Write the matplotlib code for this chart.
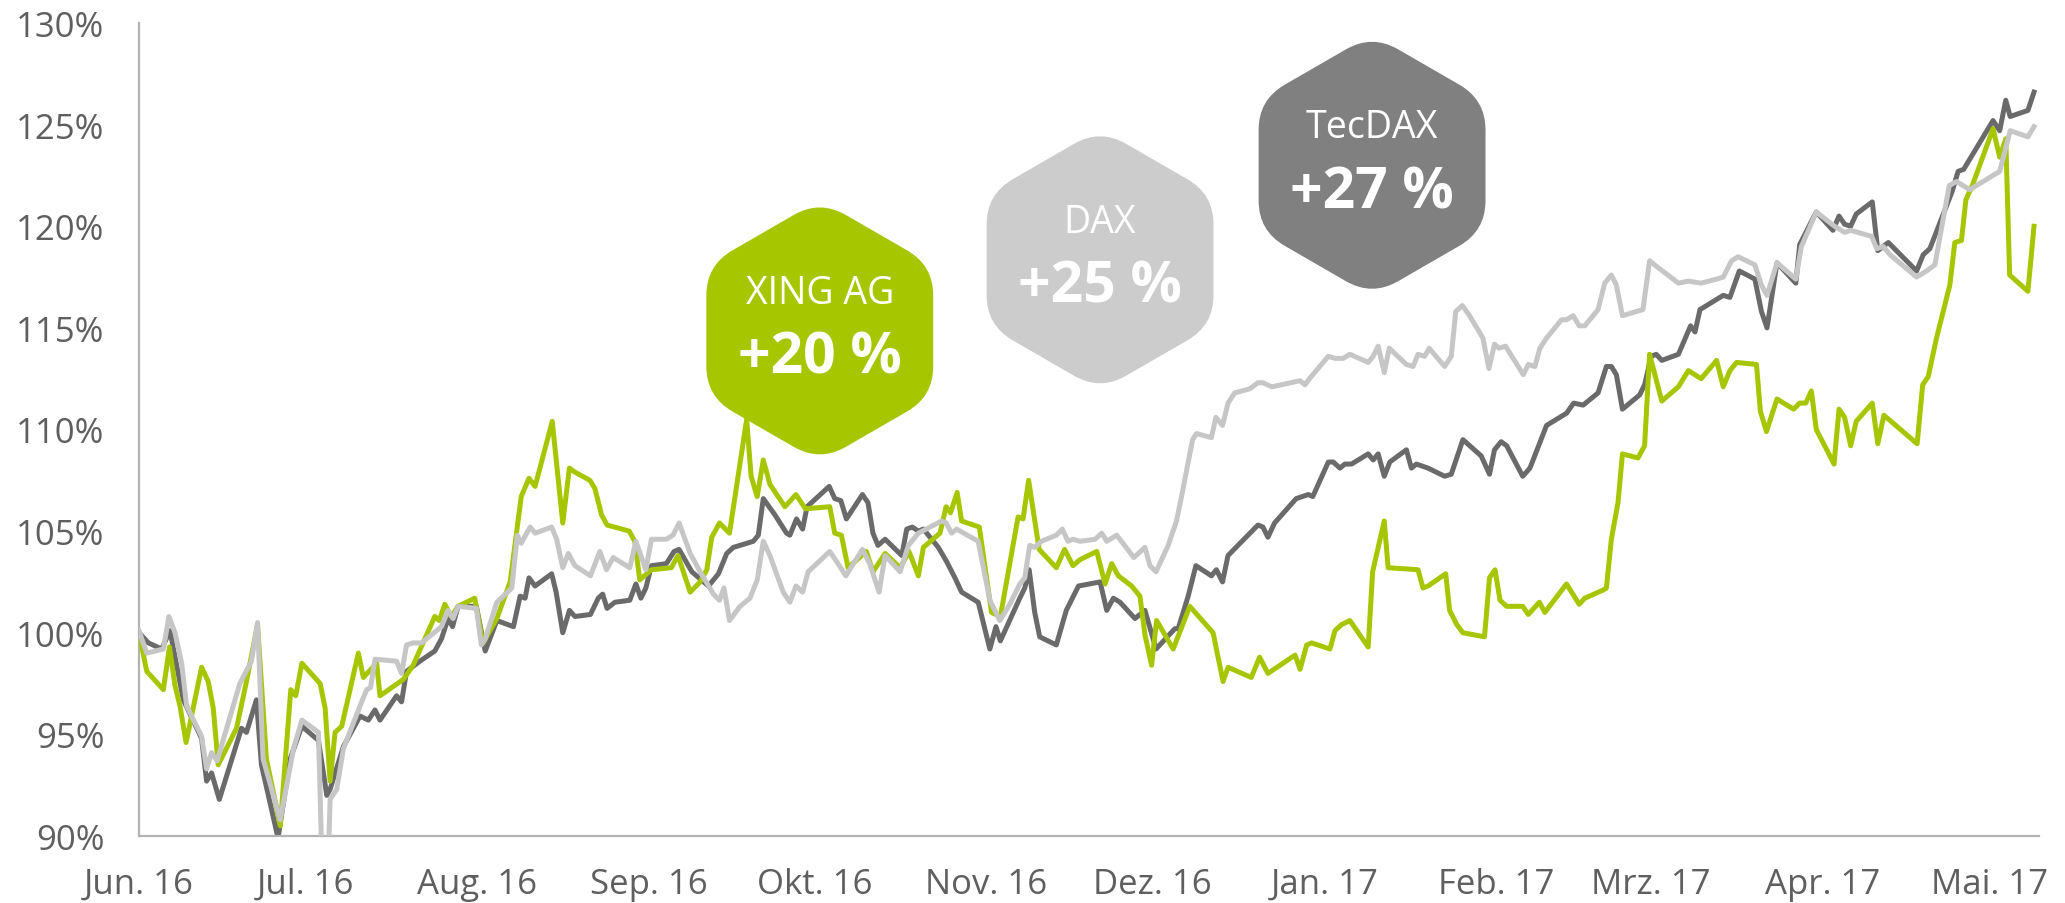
import matplotlib
matplotlib.use("Agg")
import matplotlib.pyplot as plt
from matplotlib.path import Path
from matplotlib.patches import PathPatch
from matplotlib.transforms import IdentityTransform
import numpy as np

plt.rcParams['font.family'] = ['Open Sans', 'DejaVu Sans']

# ---------------- data (days since 1 Jun 2016, value in % of start) ----------------
month_days = [0, 30, 61, 92, 122, 153, 183, 214, 245, 273, 304, 334]
month_labels = ["Jun. 16", "Jul. 16", "Aug. 16", "Sep. 16", "Okt. 16", "Nov. 16",
                "Dez. 16", "Jan. 17", "Feb. 17", "Mrz. 17", "Apr. 17", "Mai. 17"]
y_ticks = [90, 95, 100, 105, 110, 115, 120, 125, 130]

xing_days = [0, 1.4, 4.4, 5.5, 6.5, 7.4, 8.5, 11.3, 12.5, 13.4, 14.3, 17.6, 19.4, 21.4, 23.0,
             25.5, 27.4, 28.3, 29.4, 32.7, 33.6, 34.5, 35.4, 36.6, 39.6, 40.5, 42.9, 43.5, 47.7,
             49.5, 51.6, 53.4, 54.2, 55.2, 56.4, 57.6, 60.6, 62.1, 64.6, 67.0, 69.0, 70.4, 71.5,
             74.6, 76.5, 77.7, 78.7, 81.4, 82.3, 83.5, 84.5, 88.5, 89.5, 90.4, 92.5, 96.1, 97.3,
             99.5, 101.3, 102.5, 103.4, 104.8, 106.6, 109.7, 110.5, 111.6, 112.7, 113.9, 116.6,
             118.6, 120.3, 124.7, 125.6, 126.8, 128.0, 131.3, 132.5, 134.7, 137.4, 139.0, 140.7,
             141.6, 144.6, 145.7, 146.5, 147.7, 148.5, 151.7, 153.9, 155.5, 158.7, 159.6, 160.6,
             162.5, 165.6, 167.1, 168.6, 169.9, 172.9, 174.4, 175.6, 176.8, 179.2, 180.7, 181.6,
             182.8, 183.7, 185.2, 186.7, 189.7, 193.9, 195.7, 196.6, 200.8, 202.3, 203.8, 208.7,
             209.6, 210.8, 211.7, 215.0, 215.9, 217.1, 218.6, 221.9, 222.7, 224.8, 225.5, 230.9,
             231.8, 232.7, 235.9, 236.6, 237.9, 239.0, 242.9, 243.8, 244.8, 245.7, 246.9, 249.8,
             250.8, 252.8, 253.8, 257.7, 260.0, 261.0, 264.3, 264.9, 265.8, 267.0, 267.8, 270.6,
             271.8, 272.7, 274.9, 277.9, 279.7, 282.0, 284.8, 286.0, 287.2, 288.4, 292.0, 292.7,
             293.8, 295.7, 298.7, 299.8, 300.9, 301.9, 302.8, 306.0, 306.9, 307.9, 309.0, 310.0,
             312.9, 313.9, 315.0, 321.0, 322.0, 323.0, 324.5, 326.9, 327.8, 329.0, 329.8, 331.1,
             334.7, 335.9, 337.0, 337.7, 341.0, 342.1]
xing_vals = [100.0, 98.1, 97.2, 99.3, 97.4, 96.4, 94.6, 98.3, 97.6, 96.3, 93.5, 95.3, 97.6, 100.4, 93.8,
             90.5, 97.2, 96.9, 98.5, 97.5, 96.3, 92.7, 95.1, 95.4, 99.0, 97.8, 98.5, 96.9, 97.7,
             98.4, 99.7, 100.8, 100.6, 101.4, 100.8, 101.3, 101.7, 99.5, 100.7, 102.5, 106.7, 107.6, 107.2,
             110.4, 105.4, 108.1, 107.9, 107.5, 107.1, 105.8, 105.3, 105.0, 104.5, 102.6, 103.1, 103.2, 103.8,
             102.0, 102.5, 103.1, 104.7, 105.4, 104.9, 110.5, 107.7, 106.7, 108.5, 107.3, 106.2,
             106.8, 106.1, 106.2, 104.9, 104.8, 103.2, 104.0, 103.0, 103.9, 103.2, 104.0, 102.8,
             104.2, 104.9, 106.2, 105.9, 106.9, 105.5, 105.2, 101.0, 100.8, 105.7, 105.6, 107.5,
             104.1, 103.2, 104.1, 103.3, 103.6, 104.0, 102.4, 103.4, 102.8, 102.3, 101.8, 99.9,
             98.4, 100.6, 99.9, 99.2, 101.3, 100.0, 97.6, 98.3, 97.8, 98.8, 98.0, 98.9,
             98.2, 99.4, 99.5, 99.2, 100.1, 100.4, 100.6, 99.3, 103.0, 105.5, 103.2, 103.1,
             102.2, 102.3, 102.9, 101.1, 100.4, 100.0, 99.8, 102.7, 103.1, 101.6, 101.3, 101.3,
             100.9, 101.5, 101.0, 102.4, 101.4, 101.7, 102.1, 102.2, 104.6, 106.4, 108.8, 108.6,
             109.2, 113.7, 111.4, 112.1, 112.9, 112.5, 113.4, 112.1, 112.9, 113.3, 113.2, 110.9,
             109.9, 111.5, 111.0, 111.3, 111.3, 111.9, 110.0, 108.3, 111.0, 110.6, 109.2, 110.4,
             111.3, 109.3, 110.7, 109.3, 112.2, 112.6, 114.5, 117.1, 119.2, 119.3, 121.3, 122.1,
             124.8, 123.4, 124.3, 117.6, 116.8, 120.0]

dax_days = [0, 1.4, 4.4, 5.4, 6.5, 7.7, 8.6, 11.3, 12.2, 13.1, 14.1, 18.2, 20.3, 21.4, 22.4,
            25.5, 27.9, 29.4, 32.4, 33.0, 34.2, 34.5, 35.7, 36.9, 39.9, 41.1, 41.8, 42.6, 46.5,
            47.4, 48.3, 49.5, 51.0, 54.6, 55.8, 56.7, 57.6, 60.9, 61.8, 62.5, 64.6, 67.3, 68.3,
            69.0, 70.6, 71.5, 74.5, 75.4, 76.5, 77.5, 78.7, 81.5, 83.2, 84.4, 85.6, 88.6, 89.7,
            91.5, 92.5, 95.2, 96.4, 97.5, 99.5, 101.3, 103.7, 104.8, 105.6, 106.6, 108.5, 110.3,
            111.6, 112.7, 113.9, 116.3, 117.5, 118.6, 119.8, 120.8, 124.7, 126.2, 127.6, 130.6,
            131.9, 133.6, 134.7, 137.4, 138.9, 140.7, 144.9, 145.7, 146.7, 147.6, 151.5, 153.6,
            155.4, 157.2, 159.0, 159.9, 160.8, 161.7, 162.9, 165.6, 166.7, 167.7, 168.6, 169.9,
            172.6, 173.8, 174.7, 176.5, 179.6, 180.4, 181.6, 182.5, 183.6, 185.8, 187.3, 188.2,
            190.2, 190.9, 193.6, 194.4, 195.6, 196.6, 197.8, 200.5, 202.0, 202.9, 204.5, 209.6,
            210.5, 211.3, 214.7, 215.9, 217.4, 218.6, 221.9, 222.8, 223.7, 224.8, 225.7, 228.8,
            230.0, 230.9, 232.1, 232.9, 235.7, 236.9, 237.7, 238.9, 240.2, 242.6, 243.7, 244.7,
            245.5, 246.7, 249.9, 250.8, 252.0, 252.9, 254.1, 256.8, 257.7, 258.9, 260.0, 261.0,
            263.4, 264.6, 265.8, 266.7, 267.8, 271.5, 272.7, 273.6, 277.9, 279.7, 282.0, 284.8,
            286.0, 287.5, 288.7, 291.7, 292.9, 293.9, 295.7, 299.1, 300.1, 302.8, 306.1, 307.9,
            309.0, 312.8, 313.7, 314.9, 316.1, 320.9, 322.7, 324.2, 326.8, 328.1, 330.5, 335.9,
            337.8, 341.0, 342.1]
dax_vals = [100.1, 99.0, 99.2, 100.8, 100.0, 98.5, 96.4, 94.9, 93.3, 94.1, 93.7, 97.5, 98.6, 100.5, 93.8,
            90.8, 94.3, 95.7, 95.1, 89.0, 89.0, 91.8, 92.3, 94.3, 96.4, 97.2, 97.3, 98.7, 98.6,
            98.0, 99.4, 99.5, 99.5, 100.3, 101.1, 100.7, 101.3, 101.2, 99.4, 99.7, 101.5, 102.2, 104.8,
            104.4, 105.2, 104.9, 105.2, 104.6, 103.2, 103.9, 103.3, 102.8, 104.0, 103.1, 103.7, 103.2, 104.5,
            103.1, 104.6, 104.6, 104.8, 105.4, 103.9, 103.0, 101.9, 101.6, 102.2, 100.6, 101.3, 101.7,
            102.6, 104.5, 103.8, 102.0, 101.5, 102.3, 102.0, 103.0, 104.0, 103.4, 102.8, 104.1,
            103.4, 102.0, 103.8, 103.0, 104.3, 104.9, 105.5, 105.4, 104.9, 105.1, 104.5, 101.6,
            100.6, 101.4, 102.4, 102.7, 104.3, 104.2, 104.5, 104.8, 105.1, 104.5, 104.6, 104.5,
            104.6, 104.9, 104.5, 104.8, 103.7, 103.9, 104.2, 103.3, 103.0, 104.3, 105.5, 106.7,
            109.5, 109.8, 109.6, 110.6, 110.2, 111.3, 111.8, 112.0, 112.3, 112.3, 112.1, 112.4,
            112.2, 112.5, 113.6, 113.5, 113.5, 113.7, 113.3, 113.6, 114.1, 112.8, 114.0, 113.2,
            113.1, 113.7, 113.6, 114.0, 113.1, 113.6, 115.8, 116.1, 115.6, 114.5, 113.0, 114.2,
            114.0, 114.1, 112.7, 113.2, 113.1, 114.0, 114.5, 115.4, 115.4, 115.6, 115.1, 115.1,
            115.9, 117.2, 117.6, 117.1, 115.6, 115.9, 118.3, 118.1, 117.2, 117.3, 117.2, 117.4,
            117.5, 118.3, 118.5, 118.1, 117.1, 116.6, 118.2, 117.4, 119.0, 120.7, 120.0, 119.7,
            119.8, 119.5, 118.9, 119.0, 118.6, 117.5, 117.8, 118.1, 122.0, 122.2, 121.8, 122.7,
            124.7, 124.4, 124.9]

tecdax_days = [0, 1.7, 4.1, 5.6, 8.0, 11.3, 12.2, 13.1, 14.5, 18.5, 19.4, 21.2, 22.1, 25.1, 27.3,
               29.4, 32.4, 33.9, 34.5, 36.9, 39.9, 41.4, 42.6, 43.5, 46.5, 47.4, 48.3, 50.7, 53.4,
               54.6, 55.8, 56.6, 57.6, 60.9, 62.5, 64.6, 67.6, 68.8, 69.7, 70.4, 71.5, 74.5, 75.3,
               76.5, 77.7, 78.7, 81.5, 82.9, 83.7, 84.5, 85.9, 88.6, 89.7, 90.6, 91.5, 92.5, 95.2,
               96.6, 97.5, 99.8, 102.8, 104.6, 106.1, 107.3, 109.7, 110.9, 111.8, 112.7, 114.8,
               116.9, 117.5, 118.7, 119.8, 120.6, 124.6, 125.6, 126.7, 127.7, 130.6, 131.6, 132.5,
               133.4, 134.7, 137.7, 138.6, 139.6, 140.7, 141.6, 144.3, 145.8, 147.3, 148.5, 151.5,
               153.6, 154.7, 155.5, 159.0, 159.9, 160.7, 161.7, 162.6, 165.6, 167.4, 169.6, 173.5,
               174.7, 175.9, 177.1, 179.8, 181.6, 183.6, 187.0, 187.6, 189.4, 190.8, 193.6, 194.5,
               195.6, 196.6, 202.0, 202.9, 203.8, 205.0, 208.9, 211.1, 211.9, 214.7, 215.6, 216.8,
               217.7, 218.9, 221.9, 222.8, 223.7, 224.8, 225.8, 228.8, 229.7, 230.6, 232.7, 235.7,
               236.9, 239.0, 242.3, 243.8, 244.7, 245.9, 246.9, 249.8, 251.1, 254.1, 257.7, 259.0,
               260.7, 263.4, 264.9, 265.8, 266.7, 267.8, 270.9, 271.8, 273.0, 273.9, 274.9, 277.9,
               280.1, 280.9, 281.8, 284.8, 286.0, 287.2, 288.9, 291.7, 292.9, 293.9, 295.7, 299.1,
               299.8, 302.8, 305.8, 306.9, 307.9, 309.0, 310.0, 312.9, 313.9, 315.8, 320.9, 322.1,
               323.3, 327.3, 328.4, 329.4, 334.7, 335.9, 337.0, 337.8, 341.0, 342.1]
tecdax_vals = [100.0, 99.5, 99.2, 100.1, 96.7, 94.8, 92.7, 93.1, 91.8, 95.3, 95.1, 96.7, 93.5, 89.9, 93.8,
               95.4, 94.7, 92.0, 92.3, 94.4, 95.9, 95.7, 96.2, 95.7, 96.9, 96.6, 98.1, 98.6, 99.1,
               99.7, 100.7, 100.3, 101.3, 101.3, 99.1, 100.6, 100.3, 101.8, 101.7, 102.7, 102.3, 102.9, 102.0,
               100.0, 101.1, 100.8, 100.9, 101.7, 101.9, 101.2, 101.5, 101.6, 102.4, 101.7, 102.2, 103.3, 103.4,
               104.0, 104.1, 103.0, 102.3, 102.9, 103.9, 104.2, 104.4, 104.5, 104.8, 106.6, 105.8,
               104.9, 104.8, 105.6, 105.1, 106.2, 107.2, 106.6, 106.5, 105.6, 106.8, 106.4, 104.9,
               104.3, 104.6, 103.8, 105.1, 105.2, 105.0, 105.1, 104.2, 103.5, 102.7, 102.0, 101.5,
               99.2, 100.3, 99.6, 101.7, 102.2, 103.1, 101.0, 99.8, 99.4, 101.1, 102.3, 102.5,
               101.1, 101.7, 101.5, 100.7, 101.1, 99.2, 100.2, 100.2, 101.8, 103.3, 102.8, 103.1,
               102.5, 103.8, 105.3, 105.2, 104.7, 105.4, 106.6, 106.8, 106.7, 108.4, 108.4, 108.1,
               108.3, 108.3, 108.8, 108.5, 108.8, 107.7, 108.4, 109.0, 108.1, 108.3, 108.1, 107.7,
               107.8, 109.5, 108.7, 107.8, 109.0, 109.4, 109.2, 107.7, 108.1, 110.2, 110.8, 111.3,
               111.2, 111.8, 113.1, 113.1, 112.7, 111.0, 111.7, 112.2, 113.6, 113.7, 113.4, 113.7,
               115.1, 114.8, 115.9, 116.4, 116.6, 116.5, 117.8, 117.4, 115.8, 115.0, 118.2, 117.2,
               119.1, 120.7, 119.8, 120.5, 120.1, 120.0, 120.6, 121.2, 118.8, 119.2, 117.8, 118.6,
               118.9, 121.7, 122.7, 122.8, 125.2, 124.7, 126.2, 125.4, 125.7, 126.6]

badge_names = ["XING AG", "DAX", "TecDAX"]
badge_changes = ["+20 %", "+25 %", "+27 %"]

# ---------------- styling ----------------
GREEN = '#a6c600'
LIGHT = '#c6c6c6'
DARK = '#6a6a6a'
badge_colors = [GREEN, '#cccccc', '#808080']
badge_centers = [(122.9, 114.85), (173.5, 118.35), (222.6, 123.0)]  # (day, %)

W, H = 2065, 904
fig = plt.figure(figsize=(W / 100, H / 100), dpi=100)
ax = fig.add_axes([139 / W, 1 - 837 / H, (2039 - 139) / W, (837 - 24) / H])

LW = 3.6
ax.plot(tecdax_days, tecdax_vals, color=DARK, lw=LW, zorder=2)
ax.plot(xing_days, xing_vals, color=GREEN, lw=LW, zorder=3)
ax.plot(dax_days, dax_vals, color=LIGHT, lw=LW, zorder=4)

ax.set_xlim(0, 343)
ax.set_ylim(90, 130)
ax.set_xticks(month_days)
ax.set_xticklabels(month_labels)
ax.set_yticks(y_ticks)
ax.set_yticklabels([f"{v}%" for v in y_ticks])
ax.tick_params(axis='both', length=0, labelsize=25, labelcolor='#5f5f5f')
ax.tick_params(axis='x', pad=22)
ax.tick_params(axis='y', pad=25)
for s in ['top', 'right']:
    ax.spines[s].set_visible(False)
for s in ['left', 'bottom']:
    ax.spines[s].set_color('#b3b3b3')
    ax.spines[s].set_linewidth(1.6)
ax.set_facecolor('none')


def rounded_hexagon(cx, cy, R, r):
    angles = np.deg2rad([90, 150, 210, 270, 330, 30])
    pts = [np.array([cx + R * np.cos(a), cy + R * np.sin(a)]) for a in angles]
    n = len(pts)
    verts, codes = [], []
    for i in range(n):
        P, V, N = pts[i - 1], pts[i], pts[(i + 1) % n]
        t = r / np.linalg.norm(P - V)
        A = V + (P - V) * t
        B = V + (N - V) * t
        if i == 0:
            verts.append(A); codes.append(Path.MOVETO)
        else:
            verts.append(A); codes.append(Path.LINETO)
        verts += [V, B]; codes += [Path.CURVE3, Path.CURVE3]
    verts.append(verts[0]); codes.append(Path.CLOSEPOLY)
    return Path(verts, codes)


fig.canvas.draw()
to_fig = fig.transFigure.inverted()
for name, change, col, (d, v) in zip(badge_names, badge_changes, badge_colors, badge_centers):
    cx, cy = ax.transData.transform((d, v))
    path = rounded_hexagon(cx, cy, 131, 30)
    fig.patches.append(PathPatch(path, facecolor=col, edgecolor='none',
                                 transform=IdentityTransform(), zorder=10))
    fx, fy = to_fig.transform((cx, cy + 38))
    fig.text(fx, fy, name, ha='center', va='center', color='white', fontsize=27, zorder=11)
    fx, fy = to_fig.transform((cx, cy - 27))
    fig.text(fx, fy, change, ha='center', va='center', color='white', fontsize=41,
             fontweight='bold', zorder=11)

fig.savefig('out.png', dpi=100)
